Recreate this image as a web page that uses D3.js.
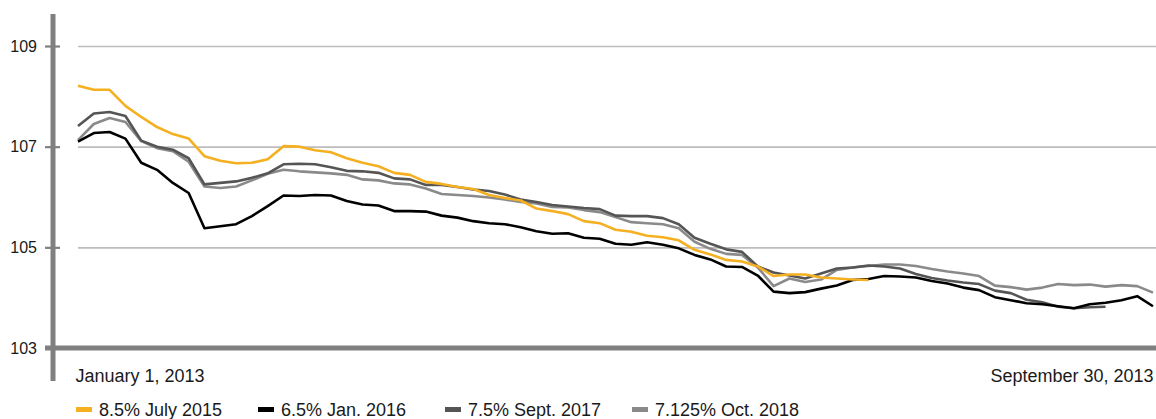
<!DOCTYPE html>
<html>
<head>
<meta charset="utf-8">
<script src="https://cdn.jsdelivr.net/npm/d3@7"></script>
<style>
  body { margin: 0; background: #fff; }
  svg { font-family: "Liberation Sans", Arial, Helvetica, sans-serif; }
</style>
</head>
<body>
<div id="chart"></div>
<script>
// sampled every 4 days, Jan 1 - Sep 30, 2013
const startDate = new Date(2013, 0, 1);
const endDate = new Date(2013, 8, 30);
const dates = d3.timeDay.range(startDate, d3.timeDay.offset(endDate, 1), 4);

const july2015 = [
  108.21, 108.13, 108.13, 107.81, 107.59, 107.39, 107.25, 107.16, 106.81, 106.72,
  106.67, 106.68, 106.75, 107.01, 107.00, 106.93, 106.89, 106.77, 106.68, 106.61,
  106.48, 106.44, 106.30, 106.26, 106.20, 106.16, 106.04, 105.98, 105.93, 105.77,
  105.72, 105.66, 105.52, 105.48, 105.35, 105.31, 105.23, 105.20, 105.14, 104.95,
  104.86, 104.75, 104.72, 104.62, 104.43, 104.46, 104.46, 104.40, 104.38, 104.36,
  104.35
];
const jan2016 = [
  107.10, 107.27, 107.29, 107.16, 106.68, 106.54, 106.28, 106.08, 105.38, 105.42,
  105.46, 105.62, 105.82, 106.03, 106.02, 106.04, 106.03, 105.92, 105.85, 105.83,
  105.72, 105.72, 105.71, 105.63, 105.59, 105.52, 105.48, 105.46, 105.40, 105.32,
  105.27, 105.28, 105.19, 105.17, 105.07, 105.05, 105.10, 105.05, 104.98, 104.85,
  104.76, 104.62, 104.61, 104.44, 104.12, 104.09, 104.11, 104.18, 104.24, 104.35,
  104.37, 104.43, 104.42, 104.40, 104.33, 104.28, 104.20, 104.15, 104.01, 103.95,
  103.89, 103.87, 103.83, 103.79, 103.87, 103.90, 103.95, 104.03, 103.83
];
const sept2017 = [
  107.41, 107.66, 107.69, 107.61, 107.12, 107.00, 106.94, 106.77, 106.25, 106.28,
  106.31, 106.38, 106.47, 106.65, 106.66, 106.65, 106.59, 106.52, 106.51, 106.48,
  106.37, 106.35, 106.24, 106.24, 106.20, 106.15, 106.12, 106.05, 105.95, 105.90,
  105.84, 105.81, 105.78, 105.76, 105.63, 105.62, 105.62, 105.58, 105.46, 105.19,
  105.07, 104.96, 104.91, 104.62, 104.50, 104.44, 104.38, 104.48, 104.58, 104.60,
  104.64, 104.62, 104.58, 104.47, 104.39, 104.34, 104.30, 104.27, 104.14, 104.09,
  103.96, 103.91, 103.82, 103.79, 103.81, 103.82
];
const oct2018 = [
  107.13, 107.45, 107.57, 107.49, 107.11, 106.97, 106.91, 106.70, 106.21, 106.18,
  106.21, 106.33, 106.46, 106.54, 106.51, 106.49, 106.47, 106.44, 106.35, 106.33,
  106.27, 106.25, 106.17, 106.06, 106.04, 106.02, 105.99, 105.95, 105.90, 105.87,
  105.80, 105.79, 105.74, 105.70, 105.60, 105.50, 105.48, 105.46, 105.38, 105.11,
  104.97, 104.87, 104.85, 104.60, 104.23, 104.38, 104.31, 104.36, 104.55, 104.60,
  104.63, 104.66, 104.66, 104.63, 104.57, 104.52, 104.48, 104.43, 104.24, 104.21,
  104.16, 104.20, 104.27, 104.25, 104.26, 104.22, 104.25, 104.23, 104.10
];

const seriesNames = ['8.5% July 2015', '6.5% Jan. 2016', '7.5% Sept. 2017', '7.125% Oct. 2018'];
const seriesColors = ['#f5b021', '#000000', '#555555', '#8a8a8a'];
const seriesValues = [july2015, jan2016, sept2017, oct2018];
const yTicks = [103, 105, 107, 109];
const xLabels = ['January 1, 2013', 'September 30, 2013'];

const width = 1156, height = 419;
const svg = d3.select('#chart').append('svg')
  .attr('width', width)
  .attr('height', height);

const x = d3.scaleTime().domain([startDate, endDate]).range([78, 1153]);
const y = d3.scaleLinear().domain([103, 109]).range([348, 46]);

// gridlines
svg.append('g')
  .attr('transform', 'translate(78,0)')
  .call(d3.axisLeft(y).tickValues(yTicks.slice(1)).tickSize(-(width - 78)).tickFormat(''))
  .call(g => g.select('.domain').remove())
  .call(g => g.selectAll('line').attr('stroke', '#bcbcbc').attr('stroke-width', 1.6));

// left axis
const axisX = 53;
svg.append('line')
  .attr('x1', axisX).attr('x2', axisX)
  .attr('y1', 14).attr('y2', 381)
  .attr('stroke', '#808080').attr('stroke-width', 5);

svg.append('g')
  .attr('transform', `translate(${axisX},0)`)
  .call(d3.axisLeft(y).tickValues(yTicks).tickSize(0).tickPadding(16).tickFormat(d3.format('d')))
  .call(g => g.select('.domain').remove())
  .call(g => g.selectAll('.tick line')
    .attr('x1', -8).attr('x2', 7)
    .attr('stroke', '#808080').attr('stroke-width', 2.2))
  .call(g => g.selectAll('.tick text')
    .attr('fill', '#1a1a1a')
    .style('font-size', '16px')
    .style('font-family', '"Liberation Sans", Arial, sans-serif'));

// bottom axis line
svg.append('line')
  .attr('x1', 45).attr('x2', width)
  .attr('y1', y(103)).attr('y2', y(103))
  .attr('stroke', '#808080').attr('stroke-width', 5);

// x labels at start and end
svg.append('g')
  .attr('transform', 'translate(0,348)')
  .call(d3.axisBottom(x).tickValues([startDate, endDate]).tickSize(0).tickPadding(0)
    .tickFormat((d, i) => xLabels[i]))
  .call(g => g.select('.domain').remove())
  .call(g => g.selectAll('.tick text')
    .attr('dy', 0).attr('y', 34)
    .attr('fill', '#1a1a1a')
    .style('font-size', '18px')
    .style('font-family', '"Liberation Sans", Arial, sans-serif')
    .attr('text-anchor', (d, i) => i === 0 ? 'start' : 'end')
    .attr('dx', (d, i) => i === 0 ? -3 : 0));

// lines
const line = d3.line()
  .x((d, i) => x(dates[i]))
  .y(d => y(d))
  .curve(d3.curveLinear);

const drawOrder = [3, 2, 1, 0];
svg.append('g').selectAll('path')
  .data(drawOrder)
  .enter()
  .append('path')
  .attr('d', i => line(seriesValues[i]))
  .attr('fill', 'none')
  .attr('stroke', i => seriesColors[i])
  .attr('stroke-width', 2.6)
  .attr('stroke-linejoin', 'round');

// legend
const legendX = [76, 258, 445, 632];
const legend = svg.append('g').selectAll('g')
  .data(seriesNames)
  .enter()
  .append('g')
  .attr('transform', (d, i) => `translate(${legendX[i]},0)`);

legend.append('rect')
  .attr('x', 0).attr('y', 407)
  .attr('width', 16).attr('height', 5)
  .attr('fill', (d, i) => seriesColors[i]);

legend.append('text')
  .attr('x', 23).attr('y', 416)
  .attr('fill', '#1a1a1a')
  .style('font-size', '18px')
  .text(d => d);
</script>
</body>
</html>
